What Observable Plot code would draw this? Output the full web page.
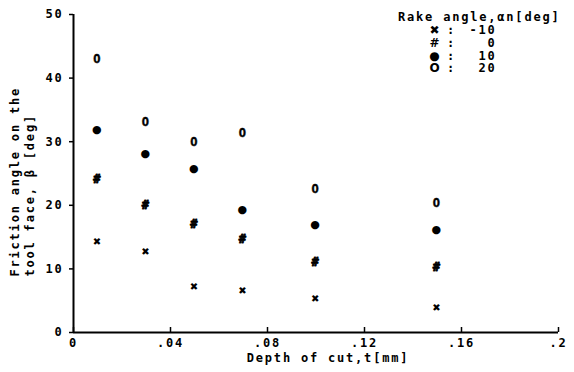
<!DOCTYPE html>
<html><head><meta charset="utf-8">
<script src="https://cdn.jsdelivr.net/npm/d3@7"></script>
<script src="https://cdn.jsdelivr.net/npm/@observablehq/plot@0.6"></script>
<style>body{margin:0;background:#fff}</style>
</head><body><div id="chart"></div>
<script>
const depths = [0.01, 0.03, 0.05, 0.07, 0.10, 0.15];
const rakeAngles = [-10, 0, 10, 20];
const betaM10 = [14.2, 12.7, 7.2, 6.6, 5.3, 3.9];
const beta0 = [24.1, 20.1, 17.1, 14.6, 11.0, 10.2];
const beta10 = [31.9, 28.1, 25.8, 19.3, 17.0, 16.2];
const beta20 = [42.9, 33.0, 30.0, 31.4, 22.5, 20.4];
const symbols = ["✖", "#", "●", "O"];
const xTicks = [0, 0.04, 0.08, 0.12, 0.16, 0.2];
const xTickLabels = ["0", ".04", ".08", ".12", ".16", ".2"];
const yTicks = [0, 10, 20, 30, 40, 50];
const xTitle = "Depth of cut,t[mm]";
const yTitle = ["Friction angle on the", "tool face, β [deg]"];
const legendTitle = "Rake angle,αn[deg]";

const seriesValues = [betaM10, beta0, beta10, beta20];
const rows = [];
rakeAngles.forEach((a, s) => depths.forEach((d, i) => rows.push({depth: d, beta: seriesValues[s][i], s})));

const font = "'DejaVu Sans Mono', monospace";
const sizes = [10, 12, 11, 12];
const markerMarks = rakeAngles.map((a, s) => Plot.text(rows.filter(r => r.s === s), {
  x: "depth", y: "beta", text: () => symbols[s],
  fontSize: sizes[s], fontWeight: "bold", fontFamily: s === 0 || s === 2 ? "DejaVu Sans" : font,
  fill: "black", stroke: s === 1 || s === 3 ? "black" : null, strokeWidth: s === 1 ? 0.9 : 0.4
}));

const T = {fontWeight: "bold", fontSize: 12, fill: "black"};
const L = {frameAnchor: "top-right", dy: 11, lineAnchor: "top", lineHeight: 1.05};
const plot = Plot.plot({
  width: 574, height: 372,
  marginLeft: 73, marginRight: 16, marginTop: 14, marginBottom: 40,
  style: {fontFamily: font, fontWeight: "bold", fontSize: "12px", letterSpacing: "1.8px", background: "white", color: "black"},
  x: {domain: [0, 0.2], label: null},
  y: {domain: [0, 50], label: null},
  marks: [
    Plot.axisX({ticks: xTicks, tickSize: 5, dy: -5, tickFormat: () => "", strokeWidth: 1.5, label: null}),
    Plot.axisX({ticks: xTicks, tickSize: 0, tickFormat: (d) => xTickLabels[xTicks.indexOf(d)], tickPadding: 6, label: null, ...T}),
    Plot.axisY({ticks: yTicks, tickSize: 4, tickPadding: 6, strokeWidth: 1.5, label: null, ...T}),
    Plot.ruleY([0], {strokeWidth: 2}),
    Plot.ruleX([0], {strokeWidth: 2}),
    Plot.text([xTitle], {frameAnchor: "bottom", dy: 29, dx: 12, ...T}),
    Plot.text([yTitle.join("\n")], {frameAnchor: "bottom-left", dx: -66, dy: -56, rotate: -90, textAnchor: "start", lineAnchor: "top", lineHeight: 1.3, ...T}),
    Plot.text([legendTitle], {frameAnchor: "top-right", dx: 2, dy: -2, textAnchor: "end", ...T}),
    Plot.text([symbols.join("\n")], {...L, dx: -123, textAnchor: "middle", ...T, fontFamily: "DejaVu Sans"}),
    Plot.text([rakeAngles.map(() => ":").join("\n")], {...L, dx: -107, textAnchor: "middle", ...T}),
    Plot.text([rakeAngles.map(String).join("\n")], {...L, dx: -62, textAnchor: "end", ...T}),
    ...markerMarks
  ]
});
document.getElementById("chart").appendChild(plot);
</script>
</body></html>
